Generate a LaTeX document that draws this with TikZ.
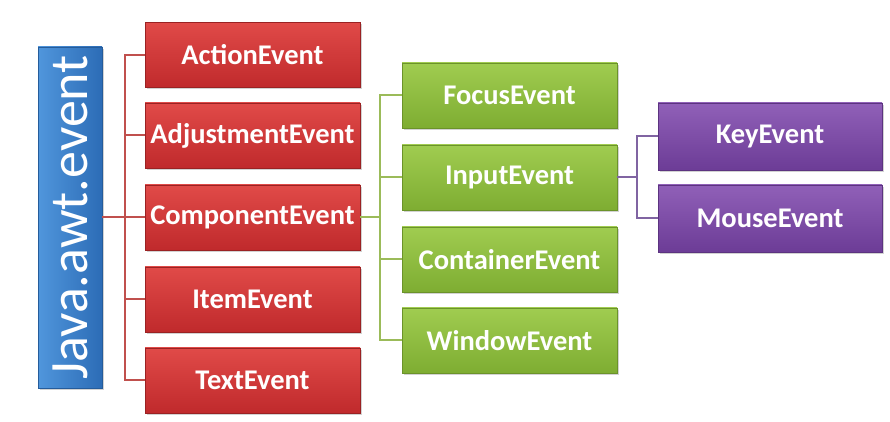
\documentclass[tikz,border=0pt]{standalone}
\usepackage{fontspec}
\setmainfont{Carlito}
\usetikzlibrary{shadows,calc}
\definecolor{redtop}{HTML}{E04A48}
\definecolor{redbot}{HTML}{C02A2C}
\definecolor{redline}{HTML}{C0504D}
\definecolor{greentop}{HTML}{A0CC50}
\definecolor{greenbot}{HTML}{7EAD32}
\definecolor{greenline}{HTML}{9BBB59}
\definecolor{purptop}{HTML}{9060B8}
\definecolor{purpbot}{HTML}{6C3C96}
\definecolor{purpline}{HTML}{8064A2}
\definecolor{bluel}{HTML}{5096DC}
\definecolor{bluer}{HTML}{2C6CB6}
\tikzset{
  x=1pt,y=1pt,
  boxbase/.style={rectangle, inner sep=0pt, text=white, font=\bfseries\fontsize{28.5}{32}\selectfont,
     drop shadow={shadow xshift=1.5pt, shadow yshift=-2pt, opacity=0.35}},
  redbox/.style={boxbase, minimum width=215pt, minimum height=65pt, top color=redtop, bottom color=redbot, draw=redbot!80!black, line width=0.5pt},
  greenbox/.style={boxbase, minimum width=215pt, minimum height=65pt, top color=greentop, bottom color=greenbot, draw=greenbot!85!black, line width=0.5pt},
  purpbox/.style={boxbase, minimum width=224pt, minimum height=67pt, top color=purptop, bottom color=purpbot, draw=purpbot!85!black, line width=0.5pt},
  bluebox/.style={boxbase, minimum width=64pt, minimum height=341pt, left color=bluel, right color=bluer, draw=bluer!85!black, line width=0.5pt},
  redconn/.style={draw=redline, line width=2pt},
  greenconn/.style={draw=greenline, line width=2pt},
  purpconn/.style={draw=purpline, line width=2pt},
}
\begin{document}
\begin{tikzpicture}
\useasboundingbox[fill=white] (0,0) rectangle (890,422);
\coordinate (rtrunk) at (125,204.5);
\coordinate (gtrunk) at (380,204.5);
\coordinate (ptrunk) at (637,244.5);
% nodes
\node[bluebox] (java) at (70,204.5) {};
\node[rotate=90, text=white, font=\fontsize{54}{58}\selectfont] (javat) at (java.center) {Java.awt.event};
\node[redbox] (action) at (252.5,367) {ActionEvent};
\node[redbox] (adjust) at (252.5,286.5) {AdjustmentEvent};
\node[redbox] (comp) at (252.5,204.5) {ComponentEvent};
\node[redbox] (item) at (252.5,122.5) {ItemEvent};
\node[redbox] (textev) at (252.5,41.5) {TextEvent};
\node[greenbox] (focus) at (509.5,326.5) {FocusEvent};
\node[greenbox] (input) at (509.5,244.5) {InputEvent};
\node[greenbox] (cont) at (509.5,162.5) {ContainerEvent};
\node[greenbox] (window) at (509.5,81.5) {WindowEvent};
\node[purpbox] (key) at (770,285.5) {KeyEvent};
\node[purpbox] (mouse) at (770,203.5) {MouseEvent};
% red connectors
\draw[redconn] (java.east) -- (comp.west);
\draw[redconn] (action.west) -- (rtrunk |- action.west) -- (rtrunk |- textev.west) -- (textev.west);
\foreach \n in {adjust,item} \draw[redconn] (rtrunk |- \n.west) -- (\n.west);
% green connectors
\draw[greenconn] (comp.east) -- (gtrunk);
\draw[greenconn] (focus.west) -- (gtrunk |- focus.west) -- (gtrunk |- window.west) -- (window.west);
\foreach \n in {input,cont} \draw[greenconn] (gtrunk |- \n.west) -- (\n.west);
% purple connectors
\draw[purpconn] (input.east) -- (ptrunk);
\draw[purpconn] (key.west) -- (ptrunk |- key.west) -- (ptrunk |- mouse.west) -- (mouse.west);
\end{tikzpicture}
\end{document}
